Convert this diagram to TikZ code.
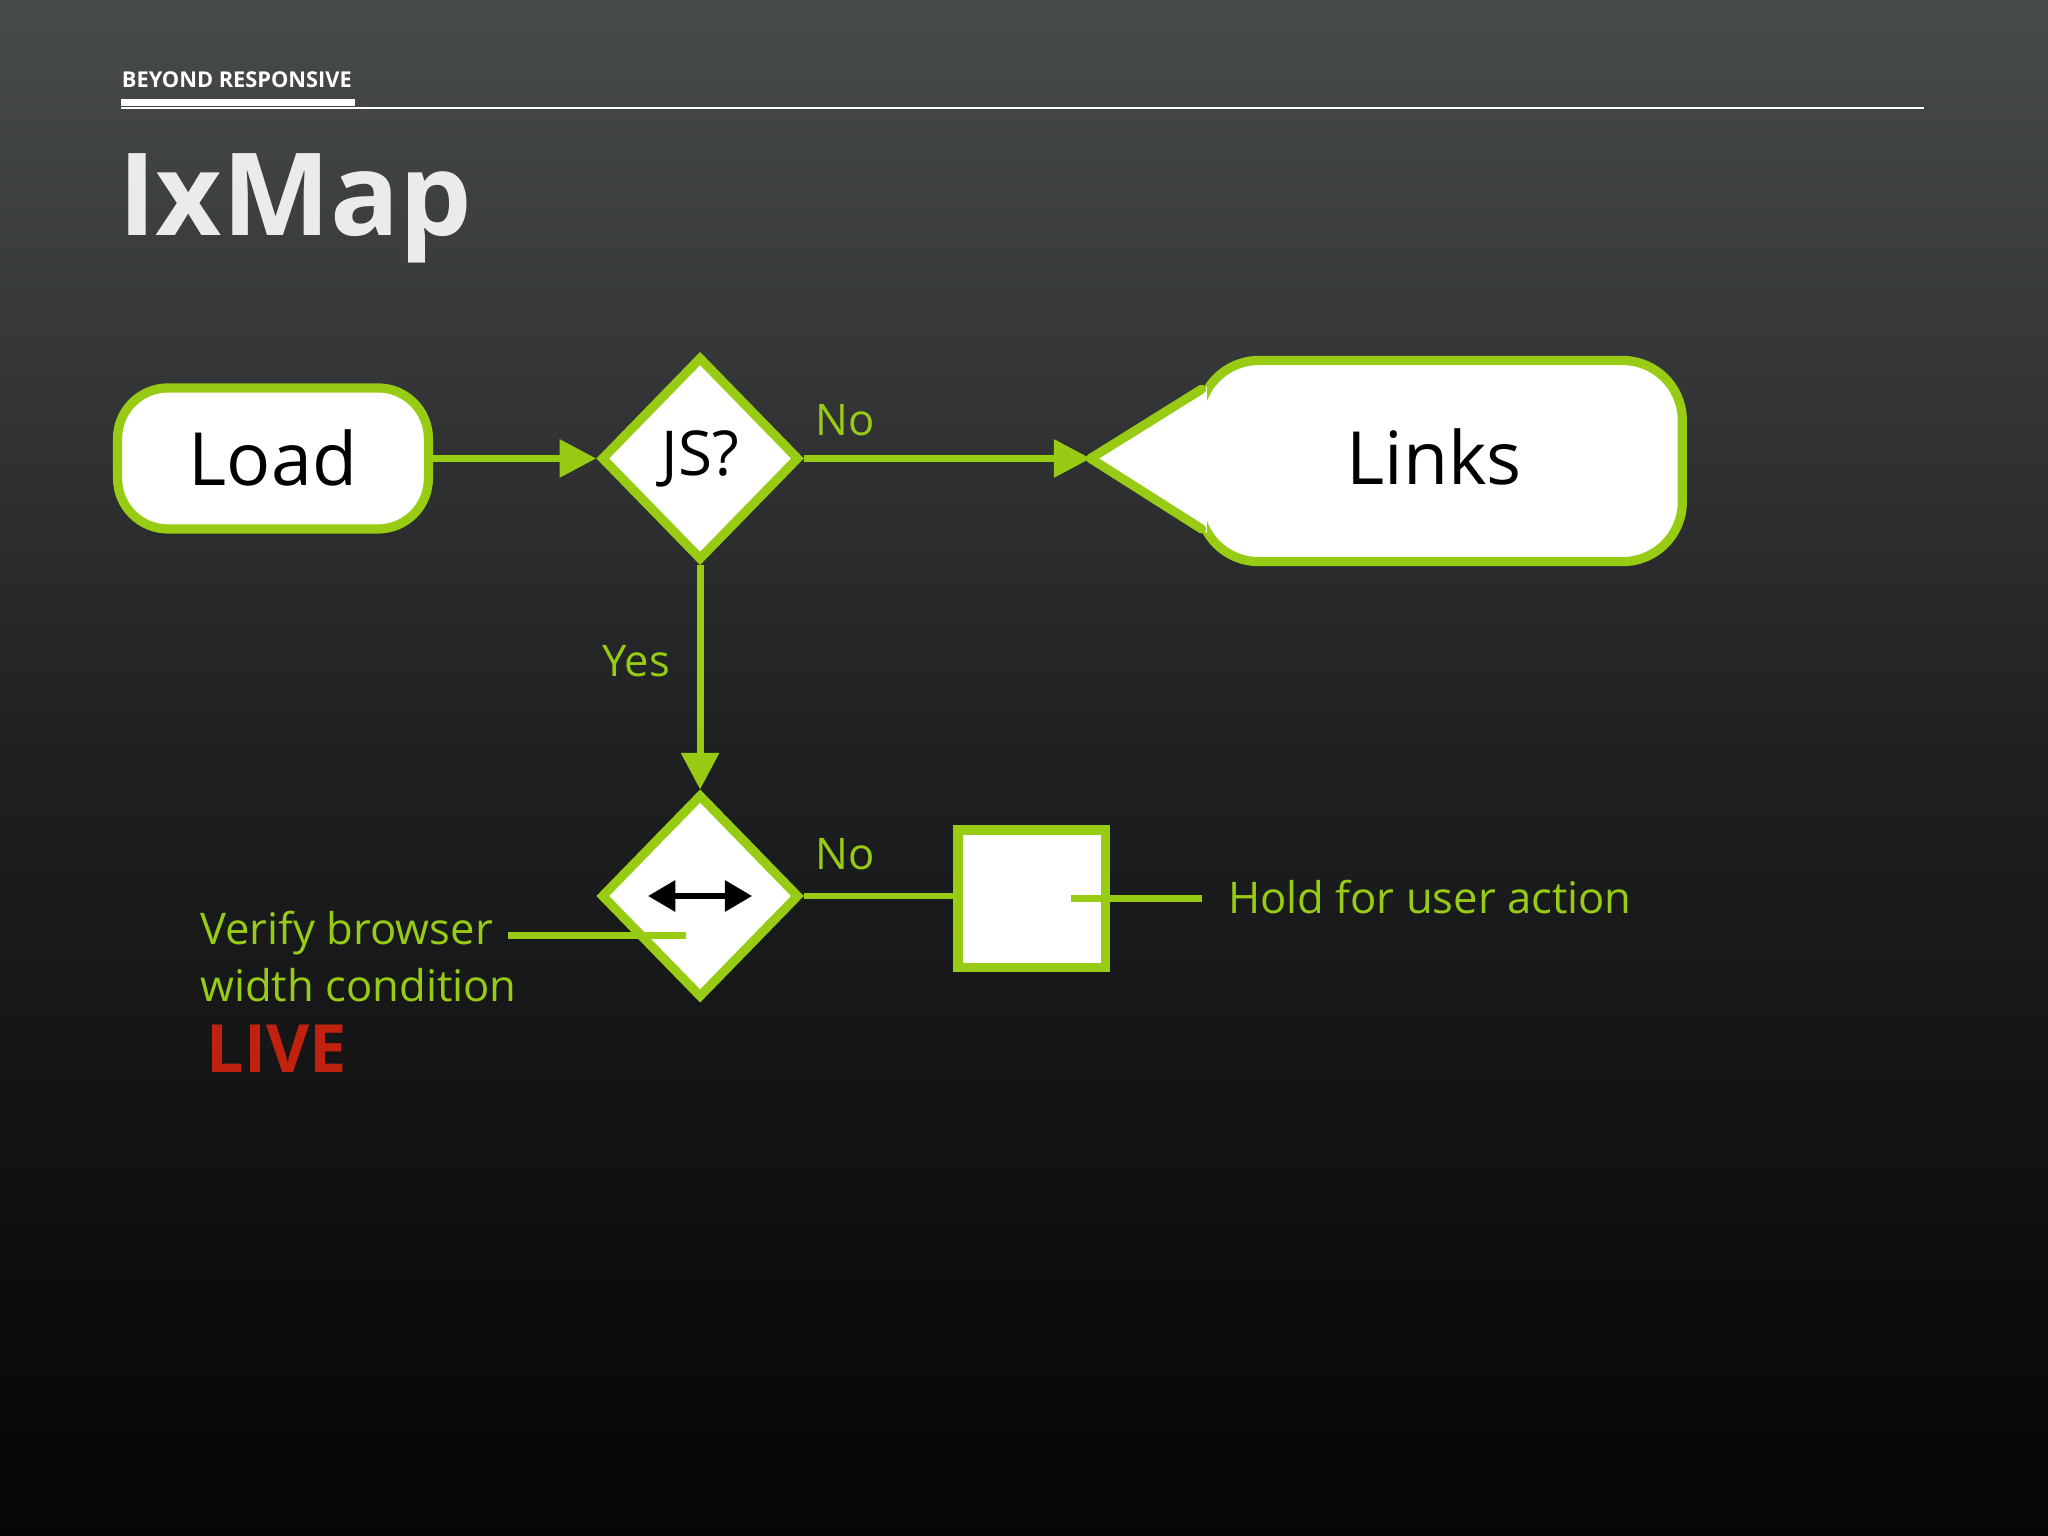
\documentclass[tikz,border=0pt]{standalone}
\usepackage{fontspec}
\setmainfont{Open Sans}
\usetikzlibrary{arrows.meta,shapes.geometric}
\definecolor{lime}{HTML}{98CB14}
\definecolor{livered}{HTML}{C0220F}
\tikzset{
  gbox/.style={draw=lime,line width=4pt,fill=white},
  gline/.style={draw=lime,line width=3pt},
  garrow/.style={gline,-{Triangle[length=16pt,width=16pt]}},
  glabel/.style={text=lime,font=\fontsize{19}{22}\selectfont,inner sep=0pt},
}
\begin{document}
\begin{tikzpicture}[x=0.02cm,y=-0.02cm]
\shade[top color={rgb,255:red,72;green,75;blue,76},bottom color={rgb,255:red,5;green,5;blue,5},middle color={rgb,255:red,30;green,31;blue,32}] (0,0) rectangle (1568,1176);
\useasboundingbox (0,0) rectangle (1568,1176);
% header
\node[anchor=base west,inner sep=0pt,text=white,font=\bfseries\fontsize{9.5}{11}\selectfont] (hdr) at (93,67) {BEYOND RESPONSIVE};
\fill[white] (93,76) rectangle (272,81);
\draw[white,line width=0.8pt] (93,83) -- (1473,83);
\node[anchor=base west,inner sep=0pt,text=white!92!black,font=\bfseries\fontsize{50}{56}\selectfont] (title) at (90,180) {IxMap};
% nodes
\draw[gbox,rounded corners=22pt] (90,297) rectangle (328,405);
\node[font=\fontsize{32}{40}\selectfont] (load) at (209,351) {Load};
\coordinate (loadE) at (330,351);
\node[gbox,diamond,minimum width=3.04cm,minimum height=3.12cm,inner sep=0pt,font=\fontsize{27}{32}\selectfont] (js) at (536,351) {JS?};
% Links callout
\draw[gbox,rounded corners=26pt] (918,276) rectangle (1288,430);
\fill[white] (836,351) -- (924,296) -- (924,408) -- cycle;
\draw[lime,line width=4pt,line cap=round] (835,351) -- (920,298);
\draw[lime,line width=4pt,line cap=round] (835,351) -- (920,405);
\node[font=\fontsize{32}{40}\selectfont] (links) at (1098,350) {Links};
\coordinate (linksW) at (835,351);
\node[gbox,diamond,minimum width=3.04cm,minimum height=3.12cm,inner sep=0pt] (w) at (536,686) {};
\draw[{Triangle[length=12pt,width=13pt]}-{Triangle[length=12pt,width=13pt]},line width=3pt] (496,686) -- (576,686);
\node[gbox,minimum width=2.26cm,minimum height=2.1cm,inner sep=0pt] (hold) at (790,688) {};
% connectors
\draw[garrow] (loadE) -- (js.west);
\draw[garrow] (js.east) -- (linksW);
\draw[garrow] (js.south) -- (w.north);
\draw[gline] (w.east) -- (w.east -| hold.west);
\coordinate (h1) at (820,688);
\coordinate (h2) at (920,688);
\draw[gline] (h1) -- (h2);
\coordinate (v1) at (389,716);
\coordinate (v2) at (525,716);
\draw[gline] (v1) -- (v2);
% labels
\node[glabel,anchor=center] (no1) at (647,322) {No};
\node[glabel,anchor=center] (no2) at (647,654) {No};
\node[glabel,anchor=center] (yes) at (487,506) {Yes};
\node[glabel,anchor=west] (holdl) at (940,687) {Hold for user action};
\node[glabel,anchor=north west,align=left,font=\fontsize{19}{25}\selectfont] (ver) at (153,697) {Verify browser\\width condition};
\node[anchor=west,inner sep=0pt,text=livered,font=\bfseries\fontsize{29}{32}\selectfont] (live) at (158,803) {LIVE};
\end{tikzpicture}
\end{document}
